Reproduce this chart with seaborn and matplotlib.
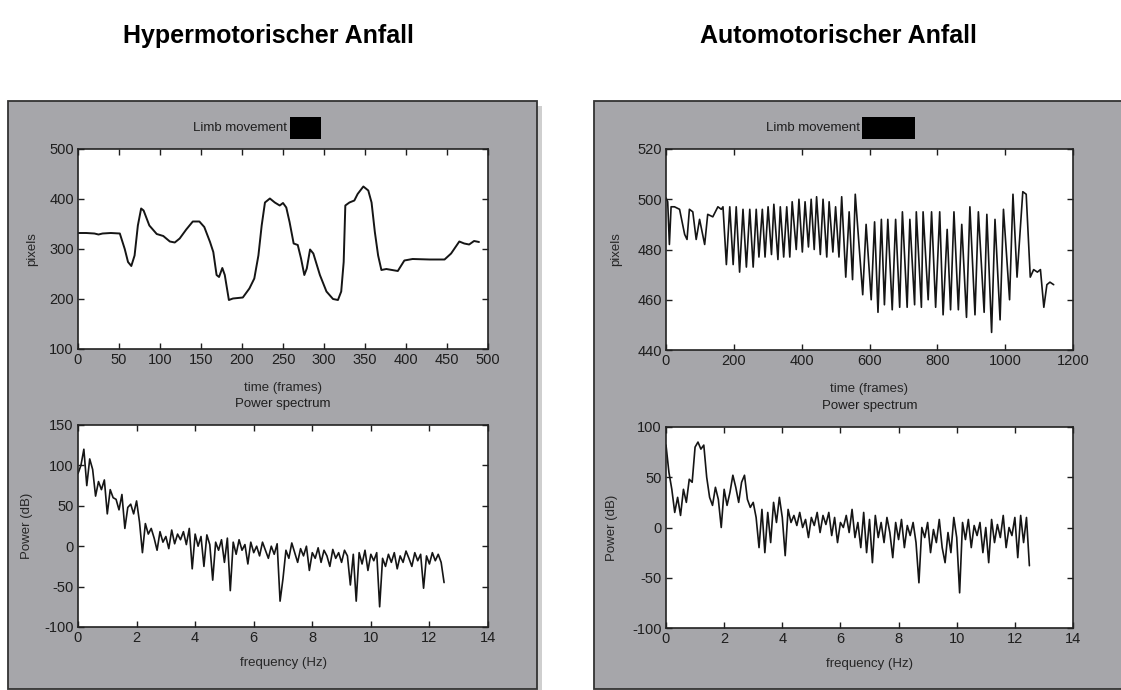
import numpy as np
import pandas as pd
import matplotlib
matplotlib.use("Agg")
import matplotlib.pyplot as plt
import seaborn as sns
from matplotlib.patches import Rectangle

# Panel titles
titles = ["Hypermotorischer Anfall", "Automotorischer Anfall"]

# Hypermotor seizure: limb position (frames, pixels)
hyper_frames = [0, 10, 20, 25, 30, 40, 51, 57, 61, 65, 69, 73, 77, 80, 87, 96, 104, 112, 118,
                124, 132, 140, 148, 154, 161, 165, 169, 172, 176, 179, 184, 189, 201, 209, 215,
                220, 224, 228, 234, 240, 246, 250, 254, 258, 263, 268, 272, 276, 279, 283, 287,
                295, 303, 311, 317, 321, 324, 326, 331, 337, 341, 348, 354, 358, 362, 366, 370,
                376, 390, 398, 408, 429, 447, 455, 465, 471, 477, 483, 489]
hyper_pixels = [332, 332, 331, 329, 331, 332, 331, 300, 274, 266, 287, 347, 381, 377, 347, 330,
                326, 315, 313, 321, 339, 355, 355, 344, 314, 294, 248, 244, 262, 248, 198, 201,
                203, 221, 241, 287, 347, 393, 401, 393, 387, 392, 383, 354, 311, 308, 281, 248,
                261, 299, 291, 248, 215, 200, 198, 215, 274, 387, 393, 397, 410, 425, 417, 393,
                334, 287, 258, 260, 256, 277, 280, 279, 279, 291, 315, 311, 309, 316, 314]

# Automotor seizure: limb position (frames, pixels), peaks and troughs
auto_frames = [0, 5, 10, 15, 25, 40, 55, 62, 69, 79, 89, 99, 114, 123, 138, 153, 163,
               168, 178, 188, 198, 207, 217, 227, 237, 247, 257, 266, 274, 284, 292, 301, 311,
               318, 330, 337, 347, 356, 365, 372, 384, 392, 402, 410, 420, 428, 437, 444, 455,
               463, 474, 481, 492, 500, 510, 518, 530, 540, 550, 558, 580, 590, 605, 615, 625,
               635, 644, 654, 667, 677, 689, 697, 711, 719, 733, 738, 753, 758, 773, 783, 795,
               807, 817, 829, 839, 849, 862, 872, 886, 896, 911, 921, 938, 946, 960, 970, 985,
               995, 1013, 1023, 1035, 1052, 1062, 1074, 1084, 1095, 1104, 1114, 1123, 1132, 1143]
auto_pixels = [500.5, 499, 482, 497, 497, 496, 486, 484, 496, 495, 484, 492, 482, 494, 493, 497, 496,
               497, 474, 497, 474, 497, 471, 496, 473, 496, 473, 496, 477, 496, 477, 497, 478,
               498, 476, 497, 477, 497, 477, 499, 480, 500, 479, 499, 481, 500, 480, 501, 478,
               500, 477, 499, 479, 497, 477, 501, 469, 495, 468, 502, 462, 490, 460, 491, 455,
               492, 458, 492, 456, 492, 457, 495, 457, 492, 458, 495, 457, 495, 460, 495, 457,
               495, 454, 488, 456, 495, 456, 490, 453, 497, 454, 495, 455, 494, 447, 492, 452,
               496, 460, 502, 469, 503, 502, 469, 472, 471, 472, 457, 466, 467, 466]

# Power spectra, 0 to 12.5 Hz in 0.1 Hz steps
freq_hz = [round(0.1 * i, 1) for i in range(126)]
hyper_power = [90, 100, 120, 75, 108, 95, 62, 80, 70, 82,
               40, 70, 60, 58, 45, 64, 22, 48, 52, 40,
               56, 30, -8, 28, 15, 22, 10, -5, 18, 5,
               12, -3, 20, 3, 15, 8, 18, 2, 22, -28,
               15, 0, 12, -25, 14, 2, -42, 5, -5, 8,
               -20, 10, -55, 5, -10, 8, -5, 2, -22, 5,
               -8, 0, -12, 5, -5, -15, 0, -10, 3, -68,
               -40, -5, -15, 4, -8, -20, -3, -12, 0, -30,
               -8, -15, -2, -20, -5, -12, -25, -4, -15, -8,
               -20, -5, -12, -48, -10, -68, -8, -22, -5, -30,
               -10, -18, -8, -75, -15, -25, -10, -20, -8, -28,
               -12, -20, -6, -15, -25, -8, -18, -10, -52, -12,
               -22, -8, -18, -10, -20, -45]
auto_power = [82, 55, 38, 15, 30, 12, 38, 25, 48, 45,
              80, 85, 78, 82, 50, 30, 22, 40, 28, 0,
              38, 22, 35, 52, 40, 25, 45, 52, 28, 20,
              25, 10, -20, 18, -25, 15, -15, 25, 5, 30,
              10, -28, 18, 5, 12, 2, 15, 0, 8, -10,
              10, 2, 15, -5, 12, 3, 15, -8, 10, -15,
              5, 0, 12, -5, 18, -10, 5, -20, 15, -25,
              8, -35, 12, -10, 5, -15, 10, -5, -30, 5,
              -12, 8, -20, 2, -8, 5, -15, -55, 0, -10,
              5, -25, -2, -15, 8, -20, -35, -5, -25, 10,
              -10, -65, 5, -12, 8, -20, 2, -8, 5, -25,
              0, -35, 8, -15, 3, -10, 12, -20, 0, -8,
              10, -30, 12, -15, 10, -38]

W, H = 1121, 690
panel_grey = "#a6a6aa"
ink = "#1e1e1e"

sns.set_style("ticks")
plt.rcParams["font.family"] = ["Liberation Sans", "DejaVu Sans"]
plt.rcParams["text.color"] = ink
plt.rcParams["axes.unicode_minus"] = False

fig = plt.figure(figsize=(W / 100, H / 100), dpi=100)


def box(px0, py0, px1, py1):
    # pixel box (top-left origin) -> figure fraction rect
    return [px0 / W, 1 - py1 / H, (px1 - px0) / W, (py1 - py0) / H]


def fig_rect(px0, py0, px1, py1, **kw):
    l, b, w, h = box(px0, py0, px1, py1)
    fig.patches.append(Rectangle((l, b), w, h, transform=fig.transFigure, **kw))


# grey figure windows with a soft shadow, drawn beneath the axes
fig_rect(537, 106, 542, 690, facecolor="#cfcfcf", edgecolor="none", zorder=-3)
fig_rect(8, 101, 537, 689, facecolor=panel_grey, edgecolor="#333333", linewidth=1.3, zorder=-2)
fig_rect(594, 101, 1125, 689, facecolor=panel_grey, edgecolor="#333333", linewidth=1.3, zorder=-2)

# black "Limb movement" markers
fig_rect(290, 117, 321, 139, facecolor="black", edgecolor="none", zorder=-1)
fig_rect(862, 117, 915, 139, facecolor="black", edgecolor="none", zorder=-1)
fig.text(287 / W, 1 - 128 / H, "Limb movement", ha="right", va="center", fontsize=9.5)
fig.text(860 / W, 1 - 128 / H, "Limb movement", ha="right", va="center", fontsize=9.5)

for cx, t in zip([268, 838], titles):
    fig.text(cx / W, 1 - 36 / H, t, ha="center", va="center", fontsize=18,
             fontweight="bold", color="black")

ax_lt = fig.add_axes(box(78, 149, 488, 349))
ax_lb = fig.add_axes(box(78, 425, 488, 627))
ax_rt = fig.add_axes(box(666, 149, 1073, 350))
ax_rb = fig.add_axes(box(666, 427, 1073, 628))

line_col = "#151515"
sns.lineplot(x=hyper_frames, y=hyper_pixels, ax=ax_lt, color=line_col, linewidth=1.4,
             estimator=None, sort=False)
sns.lineplot(x=auto_frames, y=auto_pixels, ax=ax_rt, color=line_col, linewidth=1.2,
             estimator=None, sort=False)
sns.lineplot(x=freq_hz, y=hyper_power, ax=ax_lb, color=line_col, linewidth=1.2,
             estimator=None, sort=False)
sns.lineplot(x=freq_hz, y=auto_power, ax=ax_rb, color=line_col, linewidth=1.2,
             estimator=None, sort=False)

ax_lt.set(xlim=(0, 500), ylim=(100, 500), xticks=range(0, 501, 50), yticks=range(100, 501, 100))
ax_rt.set(xlim=(0, 1200), ylim=(440, 520), xticks=range(0, 1201, 200), yticks=range(440, 521, 20))
ax_lb.set(xlim=(0, 14), ylim=(-100, 150), xticks=range(0, 15, 2), yticks=range(-100, 151, 50))
ax_rb.set(xlim=(0, 14), ylim=(-100, 100), xticks=range(0, 15, 2), yticks=range(-100, 101, 50))

for ax in [ax_lt, ax_lb, ax_rt, ax_rb]:
    ax.set_facecolor("white")
    for s in ax.spines.values():
        s.set_visible(True)
        s.set_linewidth(1.2)
        s.set_color("#222222")
    ax.tick_params(direction="in", length=4, width=1, top=True, right=True,
                   labelsize=10.5, pad=3, colors=ink)

for ax in [ax_lt, ax_rt]:
    ax.set_xlabel("time (frames)", fontsize=9.5)
    ax.xaxis.set_label_coords(0.5, -0.165)
    ax.set_ylabel("pixels", fontsize=9.5)
for ax in [ax_lb, ax_rb]:
    ax.set_title("Power spectrum", fontsize=9.5, pad=13)
    ax.set_xlabel("frequency (Hz)", fontsize=9.5)
    ax.xaxis.set_label_coords(0.5, -0.15)
    ax.set_ylabel("Power (dB)", fontsize=9.5)

ax_lt.yaxis.set_label_coords(-0.098, 0.5)
ax_rt.yaxis.set_label_coords(-0.108, 0.5)
ax_lb.yaxis.set_label_coords(-0.11, 0.5)
ax_rb.yaxis.set_label_coords(-0.118, 0.5)

fig.savefig("out.png", dpi=100, facecolor="white")
